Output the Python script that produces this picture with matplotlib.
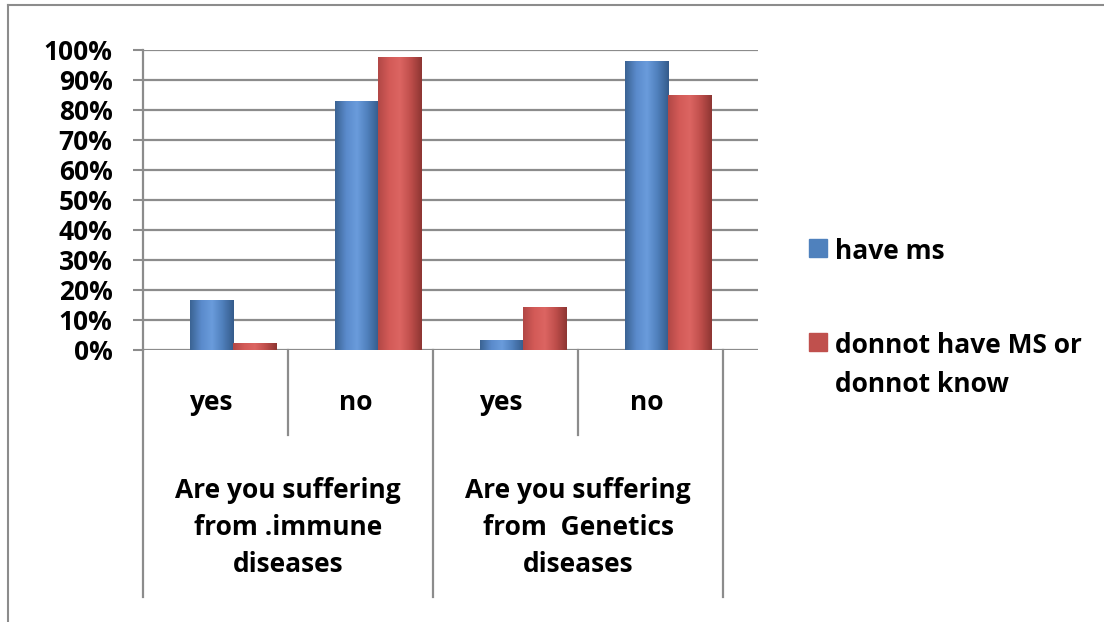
import numpy as np
import matplotlib
matplotlib.use("Agg")
import matplotlib.pyplot as plt
from matplotlib.lines import Line2D
from matplotlib.patches import Rectangle
from matplotlib.colors import LinearSegmentedColormap

# Data
answers = ["yes", "no", "yes", "no"]
questions = ["Are you suffering\nfrom .immune\ndiseases",
             "Are you suffering\nfrom  Genetics\ndiseases"]
have_ms = [0.167, 0.83, 0.035, 0.962]
no_ms = [0.022, 0.976, 0.145, 0.851]
series_names = ["have ms", "donnot have MS or\ndonnot know"]
series_colors = ["#4f81bd", "#c0504d"]
yticks = np.arange(0, 1.01, 0.1)

plt.rcParams["font.family"] = ["Open Sans", "DejaVu Sans"]
plt.rcParams["font.weight"] = "bold"
FS = 19
W, H = 1104, 622

fig = plt.figure(figsize=(W / 100, H / 100), dpi=100)
ax = fig.add_axes([143 / W, 1 - 350 / H, 615 / W, 300 / H])

grid_c = "#8c8c8c"
blue_cmap = LinearSegmentedColormap.from_list(
    "b", ["#3b6494", "#5a8acb", "#6a9cdc", "#4f7fbb", "#355c8c"])
red_cmap = LinearSegmentedColormap.from_list(
    "r", ["#b24846", "#d35a57", "#dc6562", "#bf4e4b", "#8e3633"])
grad = np.linspace(0, 1, 64).reshape(1, -1)

x = np.arange(len(answers))
w = 0.297
for vals, off, cm, base in [(have_ms, -w / 2, blue_cmap, series_colors[0]),
                             (no_ms, w / 2, red_cmap, series_colors[1])]:
    bars = ax.bar(x + off, vals, w, color=base, zorder=3, linewidth=0)
    for b in bars:
        im = ax.imshow(grad, cmap=cm, aspect="auto", zorder=3.5,
                       extent=[b.get_x(), b.get_x() + b.get_width(), 0, b.get_height()])
        im.set_clip_path(b)

ax.set_xlim(-0.62, 3.62)
ax.set_ylim(0, 1)
ax.set_yticks(yticks)
ax.set_yticklabels([f"{int(round(v * 100))}%" for v in yticks])
ax.tick_params(axis="y", length=7, width=1.5, color=grid_c, pad=15, labelsize=FS)
ax.set_xticks([])
for v in yticks:
    ax.axhline(v, color=grid_c, lw=1.6, zorder=1)
for s in ["top", "right", "bottom"]:
    ax.spines[s].set_visible(False)
ax.spines["left"].set_color(grid_c)
ax.spines["left"].set_linewidth(1.6)

# category separators below the axis
trans = ax.get_xaxis_transform()
bounds = np.append(x - 0.62, 3.38)
for i, bx in enumerate(bounds):
    low = -0.823 if i % 2 == 0 else -0.283
    ax.add_line(Line2D([bx, bx], [0, low], transform=trans, color=grid_c,
                       lw=1.6, clip_on=False))
for i, lab in enumerate(answers):
    ax.text(bounds[i] + 0.5 - 0.03, -0.175, lab, transform=trans, ha="center",
            va="center", fontsize=FS, fontweight="bold")
for j, q in enumerate(questions):
    ax.text(bounds[2 * j + 1], -0.592, q, transform=trans, ha="center",
            va="center", fontsize=FS, fontweight="bold", linespacing=1.49)

# legend (square aligned with the first line of each entry)
leg_y = [248, 342]
for name, col, yc in zip(series_names, series_colors, leg_y):
    fig.add_artist(Rectangle((809 / W, 1 - (yc + 9) / H), 18 / W, 18 / H,
                             transform=fig.transFigure, color=col))
    fig.text(835 / W, 1 - (yc - 10) / H, name, ha="left", va="top",
             fontsize=FS, fontweight="bold", linespacing=1.57)

# outer chart border
fig.add_artist(Line2D([8 / W, 1], [1 - 5 / H] * 2, color="#8c8c8c", lw=1.5))
fig.add_artist(Line2D([8 / W] * 2, [0, 1 - 5 / H], color="#8c8c8c", lw=1.5))

fig.savefig("out.png", dpi=100)
